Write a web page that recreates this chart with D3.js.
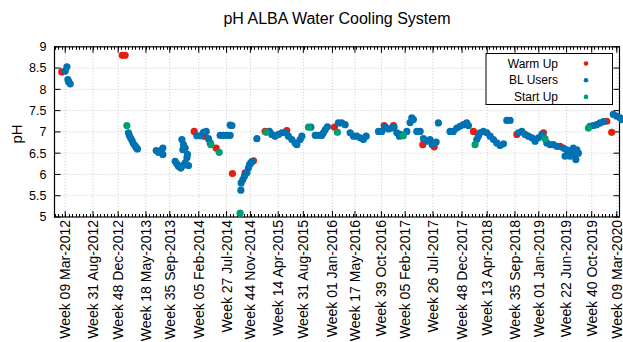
<!DOCTYPE html>
<html>
<head>
<meta charset="utf-8">
<script src="https://cdn.jsdelivr.net/npm/d3@7"></script>
<style>
body { margin: 0; background: #fff; }
text { font-family: "Liberation Sans", Arial, sans-serif; fill: #000; }
</style>
</head>
<body>
<svg id="chart" width="623" height="342"></svg>
<script>
// x values are weeks counted from Week 09 Mar-2012
var tickWeeks = [0, 21, 40, 61, 79, 101, 122, 140, 161, 180, 202, 219, 239, 257, 278, 300, 319, 340, 358, 379, 398, 417];
var tickLabels = ["Week 09 Mar-2012", "Week 31 Aug-2012", "Week 48 Dec-2012", "Week 18 May-2013",
  "Week 35 Sep-2013", "Week 05 Feb-2014", "Week 27 Jul-2014", "Week 44 Nov-2014", "Week 14 Apr-2015",
  "Week 31 Aug-2015", "Week 01 Jan-2016", "Week 17 May-2016", "Week 39 Oct-2016", "Week 05 Feb-2017",
  "Week 26 Jul-2017", "Week 48 Dec-2017", "Week 13 Apr-2018", "Week 35 Sep-2018", "Week 01 Jan-2019",
  "Week 22 Jun-2019", "Week 40 Oct-2019", "Week 09 Mar-2020"];
var yTicks = [5, 5.5, 6, 6.5, 7, 7.5, 8, 8.5, 9];

var warmWeek = [-2.6, 43.1, 45.3, 97.5, 105.0, 114.1, 126.4, 136.0, 142.3, 151.1, 167.5, 203.5, 241.1, 248.1,
  270.3, 278.9, 308.6, 341.4, 361.5, 374.1, 409.4, 413.1];
var warmPH = [8.41, 8.80, 8.80, 7.01, 6.90, 6.62, 6.02, 6.04, 6.32, 7.01, 7.03, 7.11, 7.15, 7.15,
  6.70, 6.65, 7.01, 6.94, 6.98, 6.66, 7.25, 6.99];

var blWeek = [0, 1.3, 2.0, 2.6, 3.8,
  47.8, 48.6, 49.6, 50.6, 51.6, 52.7, 53.7, 54.6,
  68.8, 70.5, 72.3, 73.8, 73.8,
  83.1, 84.4, 85.6, 87.4, 88.9, 90.7, 92.0, 92.4, 93.2, 88.2, 89.4, 90.7, 88.9,
  99.5, 102.0, 104.5, 106.6, 108.3, 109.6,
  117.1, 119.6, 122.2, 124.7, 124.7, 126.0,
  132.8, 133.0, 134.3, 135.5, 137.3, 138.5, 139.3, 140.3, 141.1,
  144.9, 154.4, 156.2, 158.7, 161.2, 163.8, 166.3, 168.7, 171.3, 173.8, 175.1, 177.6, 178.9,
  185.7, 189.0, 191.4, 194.0, 195.2, 196.5, 198.2, 206.5, 209.1, 211.6,
  215.4, 217.9, 220.4, 222.9, 225.4, 227.5,
  236.8, 239.3, 241.8, 244.3, 246.9, 248.6, 250.7, 252.6, 253.2,
  258.2, 260.7, 262.0, 263.2, 265.8, 268.3,
  270.8, 273.4, 275.8, 277.4, 280.4, 282.1,
  290.9, 293.4, 296.0, 298.5, 301.0, 303.5, 304.8,
  311.1, 312.3, 313.6, 316.1, 318.7, 321.2, 323.7, 326.2, 328.7, 331.3, 333.8, 336.3,
  342.6, 345.2, 347.6, 350.1, 352.7, 355.2, 357.7, 360.3,
  364.0, 366.5, 369.0, 371.6, 376.6, 379.1, 381.6, 384.1, 386.7, 387.9, 385.4, 381.6, 377.9, 386.0,
  396.7, 399.2, 401.7, 404.3, 406.8, 414.3, 416.9, 419.4, 420.7];
var blPH = [8.43, 8.53, 8.23, 8.18, 8.13,
  6.98, 6.91, 6.85, 6.79, 6.72, 6.68, 6.63, 6.60,
  6.56, 6.52, 6.56, 6.62, 6.47,
  6.31, 6.25, 6.19, 6.15, 6.21, 6.27, 6.39, 6.47, 6.21, 6.82, 6.70, 6.62, 6.58,
  6.91, 6.91, 6.99, 7.01, 6.84, 6.74,
  6.92, 6.92, 6.92, 6.92, 7.16, 7.15,
  5.63, 5.80, 5.88, 5.96, 6.04, 6.15, 6.23, 6.27, 6.30,
  6.84, 7.01, 6.94, 6.90, 6.94, 6.98, 6.99, 6.90, 6.82, 6.74, 6.70, 6.82, 6.90,
  7.11, 6.92, 6.92, 6.92, 6.98, 7.05, 7.12, 7.21, 7.21, 7.17,
  6.98, 6.90, 6.90, 6.86, 6.82, 6.90,
  7.01, 7.01, 7.12, 7.07, 7.09, 7.12, 6.98, 6.90, 6.94,
  7.01, 7.22, 7.33, 7.29, 7.01, 7.01,
  6.84, 6.78, 6.82, 6.70, 6.76, 7.21,
  7.01, 7.01, 7.09, 7.13, 7.17, 7.21, 7.15,
  6.82, 6.90, 6.98, 7.01, 6.98, 6.90, 6.82, 6.74, 6.68, 6.72, 7.27, 7.27,
  6.98, 7.01, 6.94, 6.90, 6.86, 6.78, 6.86, 6.94,
  6.74, 6.70, 6.70, 6.66, 6.62, 6.58, 6.54, 6.62, 6.58, 6.50, 6.47, 6.43, 6.43, 6.35,
  7.13, 7.15, 7.17, 7.21, 7.24, 7.41, 7.37, 7.33, 7.29];

var startWeek = [46.6, 110.1, 116.4, 132.2, 151.9, 183.9, 205.8, 255.6, 309.8, 362.7, 395.5];
var startPH = [7.15, 6.70, 6.52, 5.09, 6.99, 7.11, 6.99, 6.91, 6.70, 6.84, 7.09];

var seriesNames = ["Warm Up", "BL Users", "Start Up"];
var seriesColors = ["#e51e10", "#0072b2", "#009e73"];

var svg = d3.select("#chart");
var pLeft = 54.5, pRight = 619.5, pTop = 46.8, pBottom = 217;

var x = d3.scaleLinear().domain([-8.1, 419]).range([pLeft, pRight]);
var y = d3.scaleLinear().domain([5, 9]).range([pBottom, pTop]);

// grid
var grid = svg.append("g").attr("stroke", "#c8c8c8").attr("stroke-dasharray", "1,2").attr("stroke-width", 1);
grid.selectAll("line.gy").data(yTicks.slice(1, -1)).enter().append("line")
    .attr("x1", pLeft).attr("x2", pRight)
    .attr("y1", function(d) { return y(d); }).attr("y2", function(d) { return y(d); });
grid.selectAll("line.gx").data(tickWeeks).enter().append("line")
    .attr("x1", function(d) { return x(d); }).attr("x2", function(d) { return x(d); })
    .attr("y1", pTop).attr("y2", pBottom);

// ticks
var ticks = svg.append("g").attr("stroke", "#000").attr("stroke-width", 1);
var minor = d3.range(-8, 419, 2.65);
ticks.selectAll("line.mb").data(minor).enter().append("line")
    .attr("x1", function(d) { return Math.round(x(d)) + 0.5; }).attr("x2", function(d) { return Math.round(x(d)) + 0.5; })
    .attr("y1", pBottom).attr("y2", pBottom - 3);
ticks.selectAll("line.mt").data(minor).enter().append("line")
    .attr("x1", function(d) { return Math.round(x(d)) + 0.5; }).attr("x2", function(d) { return Math.round(x(d)) + 0.5; })
    .attr("y1", pTop).attr("y2", pTop + 3);
ticks.selectAll("line.Mb").data(tickWeeks).enter().append("line")
    .attr("x1", function(d) { return x(d); }).attr("x2", function(d) { return x(d); })
    .attr("y1", pBottom).attr("y2", pBottom - 6);
ticks.selectAll("line.Mt").data(tickWeeks).enter().append("line")
    .attr("x1", function(d) { return x(d); }).attr("x2", function(d) { return x(d); })
    .attr("y1", pTop).attr("y2", pTop + 6);
ticks.selectAll("line.yl").data(yTicks).enter().append("line")
    .attr("x1", pLeft).attr("x2", pLeft + 6)
    .attr("y1", function(d) { return y(d); }).attr("y2", function(d) { return y(d); });
ticks.selectAll("line.yr").data(yTicks).enter().append("line")
    .attr("x1", pRight).attr("x2", pRight - 6)
    .attr("y1", function(d) { return y(d); }).attr("y2", function(d) { return y(d); });

// frame
svg.append("rect").attr("x", pLeft).attr("y", pTop).attr("width", pRight - pLeft).attr("height", pBottom - pTop)
    .attr("fill", "none").attr("stroke", "#000").attr("stroke-width", 1.2);

// y tick labels
svg.selectAll("text.yt").data(yTicks).enter().append("text")
    .attr("x", pLeft - 8).attr("y", function(d) { return y(d); })
    .attr("dy", "0.35em").attr("text-anchor", "end").style("font-size", "12.5px")
    .text(function(d) { return d; });

// x tick labels
svg.selectAll("text.xt").data(tickWeeks).enter().append("text")
    .attr("transform", function(d) { return "translate(" + x(d) + "," + (pBottom + 3) + ") rotate(-90)"; })
    .attr("dy", "0.35em").attr("text-anchor", "end").style("font-size", "14px")
    .text(function(d, i) { return tickLabels[i]; });

// axis title + title
svg.append("text").attr("transform", "translate(17," + y(6.95) + ") rotate(-90)")
    .attr("dy", "0.35em").attr("text-anchor", "middle").style("font-size", "15px").text("pH");
svg.append("text").attr("x", 337).attr("y", 24).attr("text-anchor", "middle")
    .style("font-size", "16px").text("pH ALBA Water Cooling System");

// points
var sets = [[warmWeek, warmPH], [blWeek, blPH], [startWeek, startPH]];
sets.forEach(function(s, k) {
  svg.append("g").selectAll("circle").data(s[0]).enter().append("circle")
      .attr("cx", function(d) { return x(d); })
      .attr("cy", function(d, i) { return y(s[1][i]); })
      .attr("r", 3.6)
      .attr("fill", seriesColors[k]);
});

// legend
var lg = svg.append("g");
lg.append("rect").attr("x", 486).attr("y", 53.5).attr("width", 126.5).attr("height", 51)
    .attr("fill", "#fff").attr("stroke", "#000").attr("stroke-width", 1);
seriesNames.forEach(function(n, i) {
  lg.append("text").attr("x", 558).attr("y", 63.5 + i * 16.7).attr("dy", "0.35em")
      .attr("text-anchor", "end").style("font-size", "12px").text(n);
  lg.append("circle").attr("cx", 586).attr("cy", 63.5 + i * 16.7).attr("r", 2.3).attr("fill", seriesColors[i]);
});
</script>
</body>
</html>
